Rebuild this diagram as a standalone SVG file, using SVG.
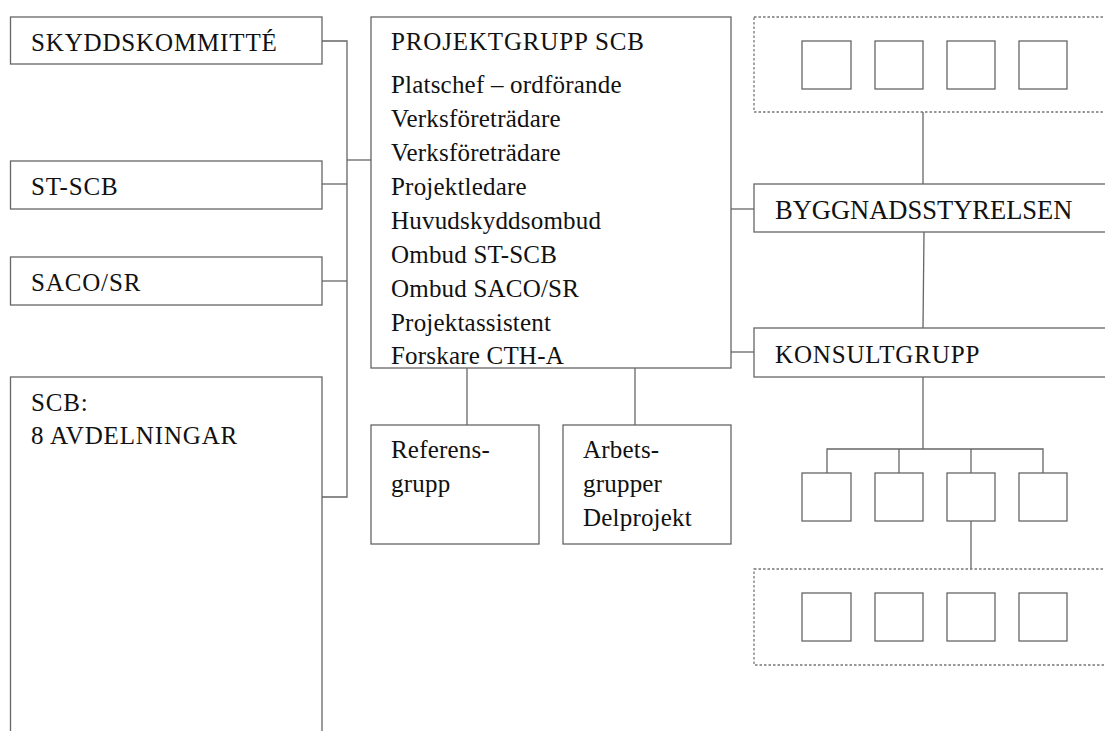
<svg xmlns="http://www.w3.org/2000/svg" width="1105" height="731" viewBox="0 0 1105 731">
<style>
.b{fill:#fff;stroke:#666;stroke-width:1.3}
.d{fill:none;stroke:#777;stroke-width:1.3;stroke-dasharray:2.5,2}
.c{fill:none;stroke:#666;stroke-width:1.3}
.t{font-size:26.5px}
.k{letter-spacing:0.85px}
.l{letter-spacing:0.2px}
</style>
<rect width="1105" height="731" fill="#fff"/>
<g id="connectors">
<polyline class="c" points="322,41 347,41 347,497 322,497"/>
<line class="c" x1="322" y1="184" x2="347" y2="184"/>
<line class="c" x1="322" y1="281" x2="347" y2="281"/>
<line class="c" x1="347" y1="160" x2="371" y2="160"/>
<line class="c" x1="467" y1="368" x2="467" y2="425"/>
<line class="c" x1="635" y1="368" x2="635" y2="425"/>
<line class="c" x1="731" y1="209" x2="754" y2="209"/>
<line class="c" x1="731" y1="352" x2="754" y2="352"/>
<line class="c" x1="923" y1="112" x2="923" y2="184"/>
<line class="c" x1="924" y1="232" x2="923" y2="328"/>
<line class="c" x1="923" y1="377" x2="923" y2="449"/>
<polyline class="c" points="827,473 827,449 1043,449 1043,473"/>
<line class="c" x1="899" y1="449" x2="899" y2="473"/>
<line class="c" x1="971" y1="449" x2="971" y2="473"/>
<line class="c" x1="971" y1="521" x2="971" y2="569"/>
</g>
<g font-family="Liberation Serif, DejaVu Serif, serif" font-size="25" fill="#111">
<g id="skyddskommitte"><rect class="b" x="10.5" y="17" width="311.5" height="47"/><text class="k" x="31" y="51">SKYDDSKOMMITTÉ</text></g>
<g id="st-scb"><rect class="b" x="10.5" y="161" width="311.5" height="48"/><text class="k" x="31" y="195">ST-SCB</text></g>
<g id="saco-sr"><rect class="b" x="10.5" y="257" width="311.5" height="48"/><text class="k" x="31" y="291">SACO/SR</text></g>
<g id="scb"><rect class="b" x="10.5" y="377" width="311.5" height="370"/><text class="k" x="31" y="411">SCB:</text><text class="k" x="31" y="444">8 AVDELNINGAR</text></g>
<g id="projektgrupp"><rect class="b" x="371" y="17" width="360" height="351"/>
<text class="k" x="391" y="50">PROJEKTGRUPP SCB</text>
<g class="l">
<text x="391" y="93">Platschef – ordförande</text>
<text x="391" y="127">Verksföreträdare</text>
<text x="391" y="161">Verksföreträdare</text>
<text x="391" y="195">Projektledare</text>
<text x="391" y="229">Huvudskyddsombud</text>
<text x="391" y="263">Ombud ST-SCB</text>
<text x="391" y="297">Ombud SACO/SR</text>
<text x="391" y="331">Projektassistent</text>
<text x="391" y="364">Forskare CTH-A</text></g></g>
<g id="referensgrupp"><rect class="b" x="371" y="425" width="168" height="119"/><text class="l" x="391" y="458">Referens-</text><text class="l" x="391" y="492">grupp</text></g>
<g id="arbetsgrupper"><rect class="b" x="563" y="425" width="168" height="119"/><text class="l" x="583" y="458">Arbets-</text><text class="l" x="583" y="492">grupper</text><text class="l" x="583" y="526">Delprojekt</text></g>
<g id="top-group"><rect class="d" x="754" y="17" width="370" height="95"/>
<rect class="b" x="802" y="41" width="49" height="48"/><rect class="b" x="875" y="41" width="48" height="48"/><rect class="b" x="947" y="41" width="48" height="48"/><rect class="b" x="1019" y="41" width="48" height="48"/></g>
<g id="byggnadsstyrelsen"><rect class="b" x="754" y="184" width="370" height="48"/><text class="t" x="775" y="219">BYGGNADSSTYRELSEN</text></g>
<g id="konsultgrupp"><rect class="b" x="754" y="328" width="370" height="49"/><text class="k" x="775" y="363">KONSULTGRUPP</text></g>
<g id="konsult-members">
<rect class="b" x="802" y="473" width="49" height="48"/><rect class="b" x="875" y="473" width="48" height="48"/><rect class="b" x="947" y="473" width="48" height="48"/><rect class="b" x="1019" y="473" width="48" height="48"/></g>
<g id="bottom-group"><rect class="d" x="754" y="569" width="370" height="96"/>
<rect class="b" x="802" y="593" width="49" height="48"/><rect class="b" x="875" y="593" width="48" height="48"/><rect class="b" x="947" y="593" width="48" height="48"/><rect class="b" x="1019" y="593" width="48" height="48"/></g>
</g>
</svg>
